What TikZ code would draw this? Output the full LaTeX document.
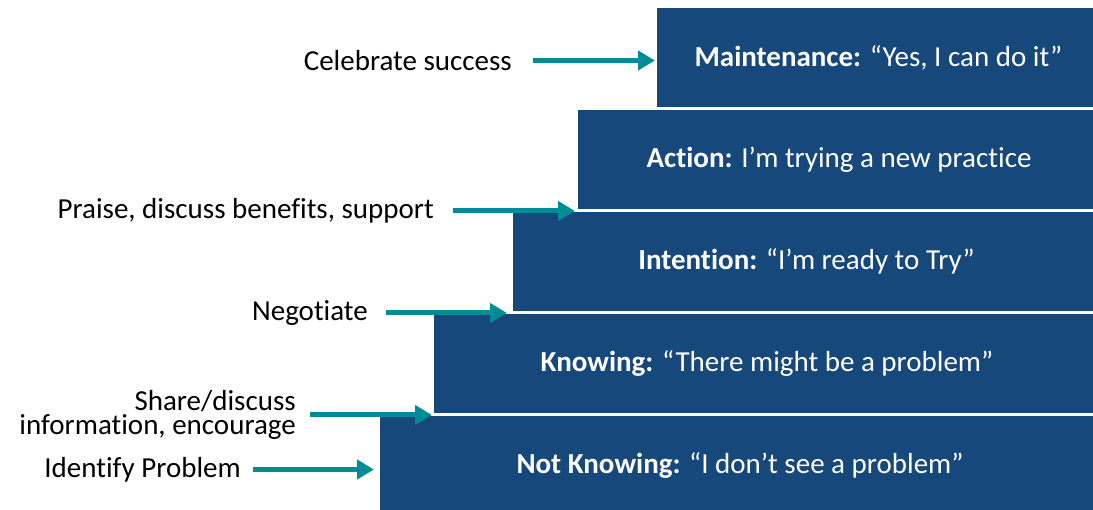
\documentclass[tikz,border=0pt]{standalone}
\usepackage{fontspec}
\setmainfont{Carlito}[Ligatures=NoCommon]
\usetikzlibrary{positioning,arrows.meta,calc}
\definecolor{stageblue}{RGB}{23,72,124}
\definecolor{arrowteal}{RGB}{0,140,150}
\newcommand{\hintfont}{\fontsize{29}{24}\selectfont\lineskiplimit=-50pt\relax}

\begin{document}
\begin{tikzpicture}[x=1pt,y=-1pt,
  stage/.style={fill=stageblue, text=white, anchor=north west, minimum height=99pt,
    inner sep=0pt, outer sep=0pt, font=\fontsize{29}{34}\selectfont},
  hint/.style={inner sep=0pt, align=right, font=\hintfont},
  push/.style={arrowteal, line width=5pt, -{Triangle[length=17pt,width=19pt]}}]
\useasboundingbox (0,0) rectangle (1093,510);

% the stairs
\node[stage, minimum width=443pt] (maint) at (657,8) {\textbf{Maintenance:} “Yes, I can do it”};
\node[stage, minimum width=522pt] (action) at (578,110) {\textbf{Action:} I’m trying a new practice};
\node[stage, minimum width=587pt] (intent) at (513,212) {\textbf{Intention:} “I’m ready to Try”};
\node[stage, minimum width=666pt] (know) at (434,314) {\textbf{Knowing:} “There might be a problem”};
\node[stage, minimum width=720pt] (notknow) at (380,416) {\textbf{Not Knowing:} “I don’t see a problem”};

% arrow tips
\coordinate (tipA) at ($(maint.west)+(-2,3)$);
\coordinate (tipB) at ($(action.south west)+(-3,2)$);
\coordinate (tipC) at ($(intent.south west)+(-6,2)$);
\coordinate (tipD) at ($(know.south west)+(-2,2)$);
\coordinate (tipE) at ($(notknow.west)+(-6,4)$);

% what to do at each step
\node[hint, left=143pt of tipA] (celebrate) {Celebrate success};
\node[hint, left=141pt of tipB] (praise) {Praise, discuss benefits, support};
\node[hint, left=139pt of tipC] (negotiate) {Negotiate};
\node[hint, left=136pt of tipD] (share) {Share/discuss\\information, encourage};
\node[hint, left=133pt of tipE] (identify) {Identify Problem};

\draw[push] ([xshift=21pt]celebrate.east) -- (tipA);
\draw[push] ([xshift=19pt]praise.east) -- (tipB);
\draw[push] ([xshift=18pt]negotiate.east) -- (tipC);
\draw[push] ([xshift=14pt]share.east) -- (tipD);
\draw[push] ([xshift=12pt]identify.east) -- (tipE);
\end{tikzpicture}
\end{document}
